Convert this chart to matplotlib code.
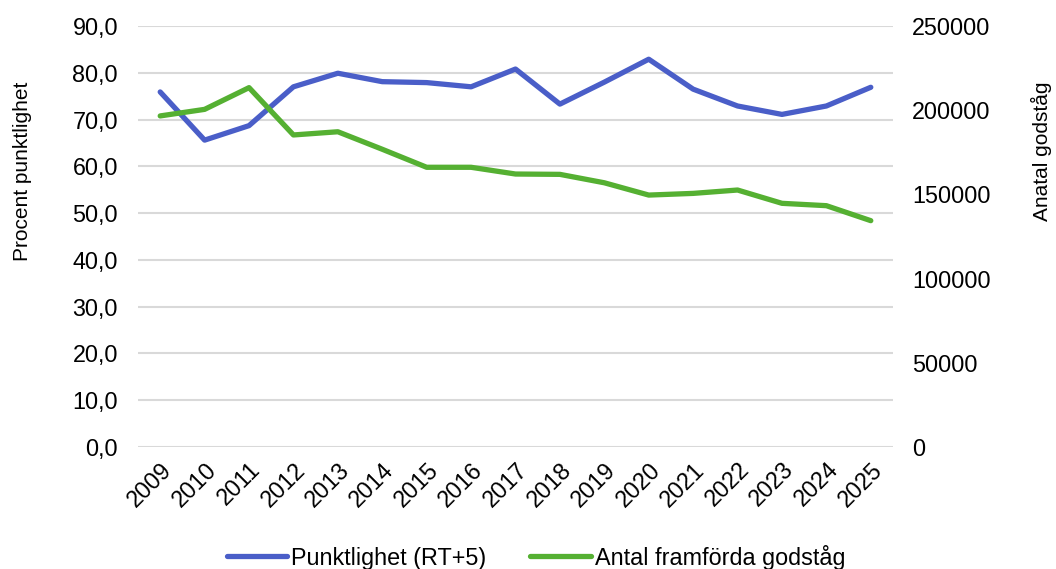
import matplotlib
matplotlib.use("Agg")
import matplotlib.pyplot as plt
from matplotlib.ticker import FuncFormatter, MultipleLocator

plt.rcParams['font.family'] = ['Liberation Sans', 'DejaVu Sans']

years = ["2009", "2010", "2011", "2012", "2013", "2014", "2015", "2016", "2017",
         "2018", "2019", "2020", "2021", "2022", "2023", "2024", "2025"]
punktlighet = [75.9, 65.6, 68.7, 77.0, 79.9, 78.1, 77.9, 77.0, 80.8,
               73.3, 78.0, 82.9, 76.5, 72.9, 71.1, 72.9, 76.9]
godstag = [196600, 200500, 213400, 185300, 187200, 176800, 166100, 166100, 162100,
           161900, 156900, 149600, 150600, 152600, 144700, 143300, 134400]

blue = '#4a5ec8'
green = '#55b032'
FS = 16.8

fig = plt.figure(figsize=(10.56, 5.69), dpi=100)
ax = fig.add_axes([138/1056, 1 - 447/569, 755/1056, 421/569])
ax2 = ax.twinx()

x = list(range(len(years)))
l1, = ax.plot(x, punktlighet, color=blue, lw=3.8, solid_capstyle='round', zorder=3,
              label='Punktlighet (RT+5)')
l2, = ax2.plot(x, godstag, color=green, lw=3.8, solid_capstyle='round', zorder=3,
               label='Antal framförda godståg')

ax.set_xlim(-0.5, len(years) - 0.5)
ax.set_ylim(0, 90)
ax2.set_ylim(0, 250000)
ax.yaxis.set_major_locator(MultipleLocator(10))
ax2.yaxis.set_major_locator(MultipleLocator(50000))
ax.yaxis.set_major_formatter(FuncFormatter(lambda v, p: f"{v:.1f}".replace('.', ',')))
ax2.yaxis.set_major_formatter(FuncFormatter(lambda v, p: f"{int(v)}"))

ax.grid(axis='y', color='#d9d9d9', lw=1.5)
ax.set_axisbelow(True)
for a in (ax, ax2):
    for s in a.spines.values():
        s.set_visible(False)
    a.tick_params(length=0, labelsize=FS, colors='black')
ax.tick_params(axis='y', pad=14.4)
ax2.tick_params(axis='y', pad=13.7)

ax.set_xticks(x)
ax.set_xticklabels(years, rotation=45, ha='right', rotation_mode='anchor', fontsize=FS)
ax.tick_params(axis='x', pad=8)

ax.set_ylabel('Procent punktlighet', fontsize=15)
ax.yaxis.set_label_coords(-0.140, 0.655)
ax2.set_ylabel('Anatal godståg', fontsize=15)
ax2.yaxis.set_label_coords(1.183, 0.703)

ax2.set_zorder(ax.get_zorder() + 1)
ax2.patch.set_visible(False)

fig.legend(handles=[l1, l2], loc='center', bbox_to_anchor=(536/1056, 1 - 557/569),
           ncol=2, frameon=False, fontsize=FS, handlelength=2.6, handletextpad=0.17,
           columnspacing=1.86)

fig.savefig('out.png', dpi=100)
